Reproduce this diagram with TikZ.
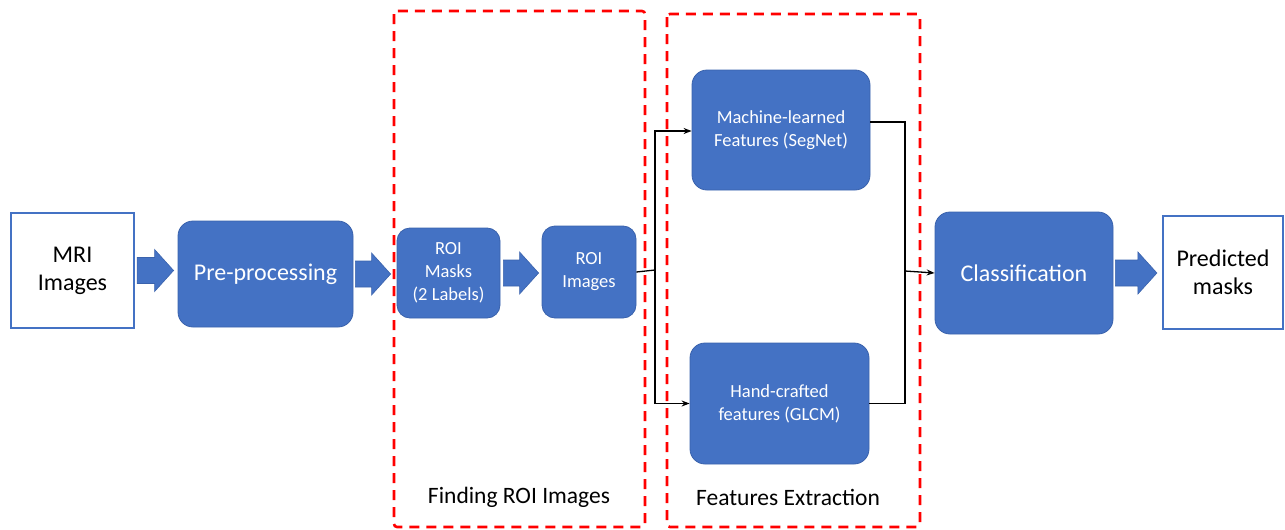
\documentclass[tikz,border=0pt]{standalone}
\usepackage{fontspec}
\setmainfont{Carlito}
\usetikzlibrary{arrows.meta, positioning, calc}
\definecolor{boxblue}{HTML}{4472C4}
\definecolor{boxedge}{HTML}{3A62AC}
\definecolor{stagered}{HTML}{FF0000}
\newcommand{\bigfont}{\fontsize{24}{28}\selectfont}
\newcommand{\smallfont}{\fontsize{18.5}{23}\selectfont}

\begin{document}
\begin{tikzpicture}[x=1pt, y=-1pt,
    block/.style={rectangle, rounded corners=15pt, fill=boxblue, draw=boxedge, line width=0.8pt, text=white, align=center, inner sep=0pt},
    io/.style={rectangle, draw=boxblue, line width=2.2pt, fill=white, align=center, inner sep=0pt, font=\bigfont},
    stagebox/.style={draw=stagered, line width=2.6pt, dash pattern=on 10pt off 7pt, rounded corners=3pt},
    link/.style={draw=black, line width=1.3pt, -{Stealth[length=8pt, width=6pt]}},
    fatarrow/.style={fill=boxblue, draw=boxedge, line width=0.6pt,
      to path={let \p1=(\tikztostart), \p2=(\tikztotarget) in
        (\x1,\y1+13pt) -- (\x2-19pt,\y1+13pt) -- (\x2-19pt,\y1+21pt) -- (\x2,\y1)
        -- (\x2-19pt,\y1-21pt) -- (\x2-19pt,\y1-13pt) -- (\x1,\y1-13pt) -- cycle}}]
    \useasboundingbox (0,0) rectangle (1285,530);

    % stage frames
    \draw[stagebox] (394,11) rectangle (645,527);
    \draw[stagebox] (667,14) rectangle (920,527);
    \node (findlbl) at (519,497) {\fontsize{23.5}{28}\selectfont Finding ROI Images};
    \node (featlbl) at (788,497) {\fontsize{23.5}{28}\selectfont Features Extraction};

    % boxes
    \node[io, minimum width=123pt, minimum height=115pt] (mri) at (72.5,270.5) {MRI\\Images};
    \node[block, minimum width=175pt, minimum height=106pt, font=\bigfont] (pre) at (265.5,274) {Pre-processing};
    \node[block, minimum width=103pt, minimum height=90pt, rounded corners=13pt, font=\smallfont] (masks) at (448.5,273) {ROI\\Masks\\(2 Labels)};
    \node[block, minimum width=94pt, minimum height=92pt, rounded corners=13pt, font=\smallfont] (roiimg) at (589,272) {ROI\\Images};
    \node[block, minimum width=178pt, minimum height=120pt, font=\smallfont] (ml) at (781,130) {Machine-learned\\Features (SegNet)};
    \node[block, minimum width=179pt, minimum height=121pt, font=\smallfont] (hc) at (779.5,403.5) {Hand-crafted\\features (GLCM)};
    \node[block, minimum width=178pt, minimum height=122pt, font=\bigfont] (cls) at (1024,273) {Classification};
    \node[io, minimum width=120pt, minimum height=113pt] (pred) at (1223,272.5) {Predicted\\masks};

    % block arrows
    \path[fatarrow] ([xshift=2pt]mri.east) to ([xshift=-4pt]pre.west);
    \path[fatarrow] ([xshift=2pt]pre.east) to ([xshift=-6pt]masks.west);
    \path[fatarrow] ([xshift=3pt]masks.east) to ([xshift=-3pt]roiimg.west);
    \path[fatarrow] ([xshift=2pt]cls.east) to ([xshift=-5pt]pred.west);

    % split and merge
    \coordinate (split) at (655,270);
    \coordinate (merge) at (905,271);
    \draw[line width=1.3pt] (roiimg.east) -- (split);
    \draw[link] (split) |- ([yshift=-1pt]ml.west);
    \draw[link] (split) |- (hc.west);
    \draw[line width=1.3pt] ([yshift=8pt]ml.east) -| (merge);
    \draw[line width=1.3pt] (hc.east) -| (merge);
    \draw[link] (merge) -- (cls.west);
\end{tikzpicture}
\end{document}
